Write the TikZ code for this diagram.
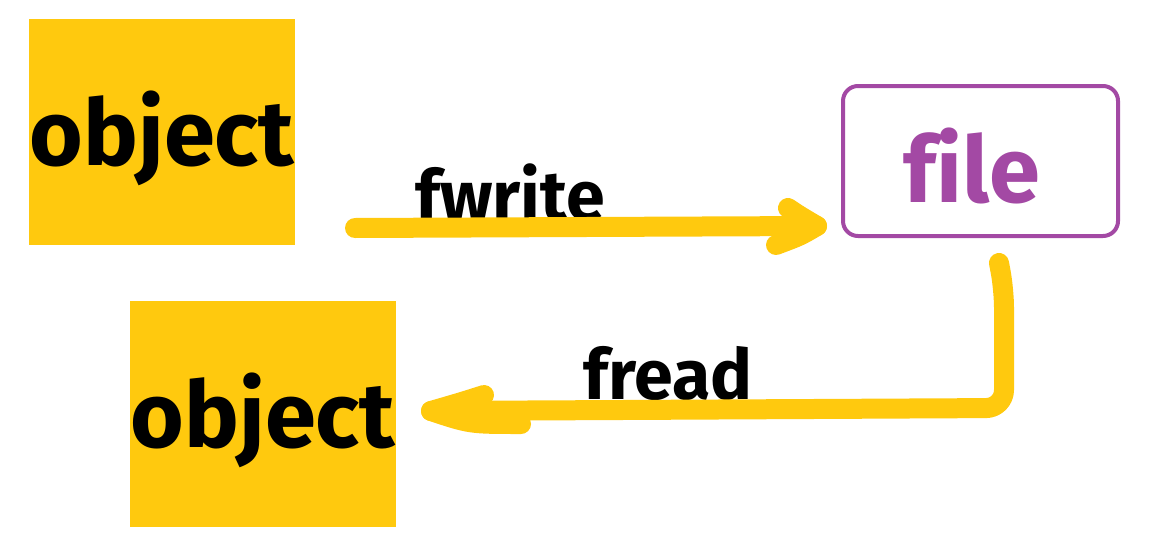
\documentclass[tikz,border=0pt]{standalone}
\usepackage{fontspec}
\setmainfont[Ligatures={NoCommon}]{Fira Sans}
\definecolor{pyellow}{HTML}{FFC90E}
\definecolor{ppurple}{HTML}{A349A4}
\begin{document}
\begin{tikzpicture}[x=1pt,y=-1pt,
  objbox/.style={fill=pyellow, inner sep=0pt, outer sep=0pt},
  objtext/.style={font=\fontsize{92}{92}\selectfont\bfseries, anchor=base, inner sep=0pt},
  lbl/.style={font=\fontsize{70}{70}\selectfont\bfseries, anchor=base, inner sep=0pt},
  filebox/.style={draw=ppurple, line width=4pt, rounded corners=15pt, inner sep=0pt},
  flow/.style={draw=pyellow, line width=20pt, line cap=round, line join=round}]
\useasboundingbox (0,0) rectangle (1166,551);
% object boxes
\node[objbox, minimum width=266pt, minimum height=226pt] (box1) at (162,132) {};
\node[objtext] (obj1) at (162,165) {object};
\node[objbox, minimum width=266pt, minimum height=226pt] (box2) at (263,414) {};
\node[objtext] (obj2) at (263,447) {object};
% file box
\node[filebox, minimum width=275pt, minimum height=150pt] (filebox) at (980.5,161) {};
\node[objtext, text=ppurple] (filetext) at (972,202) {f\kern0pt ile};
% labels
\node[lbl] (fwrite) at (510,220) {fwrite};
\node[lbl] (fread) at (668,399) {fread};
% fwrite arrow
\coordinate (w0) at (355,228);
\coordinate (wtip) at (817,226);
\coordinate (wh1) at (788,208);
\coordinate (wh2) at (776,245);
\draw[flow] (w0) -- (wtip);
\draw[flow] (wh1) .. controls (800,216) .. (wtip) .. controls (800,236) .. (wh2);
% fread arrow
\coordinate (r0) at (999,263);
\coordinate (rc) at (1004,408);
\coordinate (rtip) at (431,411);
\coordinate (rh1) at (484,395);
\coordinate (rh2) at (521,424);
\draw[flow, rounded corners=18pt] (r0) -- (1004,290) -- (rc) -- (rtip);
\draw[flow] (rh1) .. controls (462,402) .. (rtip) .. controls (470,424) .. (rh2);
\end{tikzpicture}
\end{document}
